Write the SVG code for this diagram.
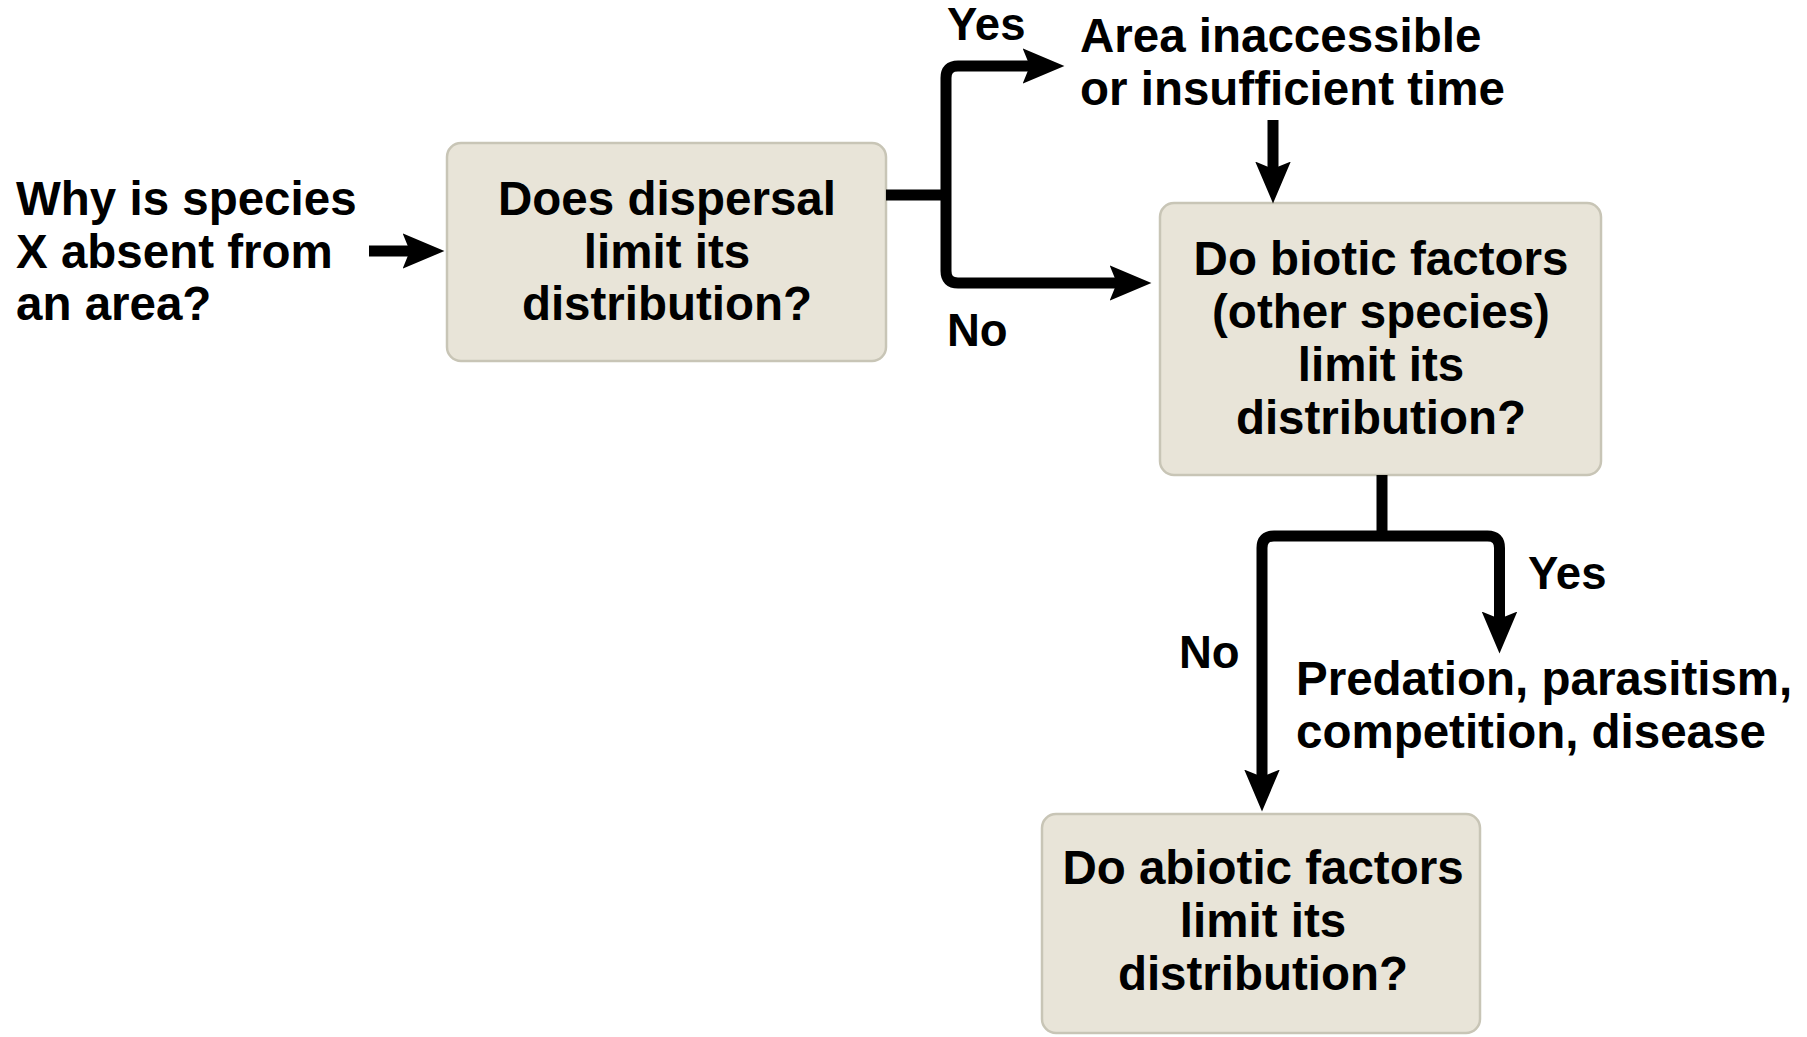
<svg xmlns="http://www.w3.org/2000/svg" width="1807" height="1037" viewBox="0 0 1807 1037">
<style>
  text { font-family: "Liberation Sans", Arial, sans-serif; font-weight: bold; fill: #000; }
  .t { font-size: 47.5px; }
  .lbl { font-size: 45.5px; }
  .c { text-anchor: middle; }
  .box { fill: #e8e4d8; stroke: #c8c5b6; stroke-width: 2.5; }
  .con { fill: none; stroke: #000; stroke-width: 11; stroke-linejoin: round; }
</style>
<defs>
  <marker id="ah" markerUnits="userSpaceOnUse" markerWidth="44" markerHeight="40" viewBox="0 -18 42 36" refX="10" refY="0" orient="auto">
    <path d="M0,-17 L40,0 L0,17 L7,0 Z" fill="#000"/>
  </marker>
</defs>
<rect width="1807" height="1037" fill="#fff"/>

<g id="start">
  <text class="t" x="16" y="215">Why is species</text>
  <text class="t" x="16" y="268">X absent from</text>
  <text class="t" x="16" y="320">an area?</text>
</g>

<g id="dispersal">
  <rect class="box" x="447" y="143" width="439" height="218" rx="14"/>
  <text class="t c" x="667" y="215">Does dispersal</text>
  <text class="t c" x="667" y="268">limit its</text>
  <text class="t c" x="667" y="320">distribution?</text>
</g>

<g id="inaccessible">
  <text class="t" x="1080" y="52">Area inaccessible</text>
  <text class="t" x="1080" y="105">or insufficient time</text>
</g>

<g id="biotic">
  <rect class="box" x="1160" y="203" width="441" height="272" rx="14"/>
  <text class="t c" x="1381" y="275">Do biotic factors</text>
  <text class="t c" x="1381" y="328">(other species)</text>
  <text class="t c" x="1381" y="381">limit its</text>
  <text class="t c" x="1381" y="434">distribution?</text>
</g>

<g id="interactions">
  <text class="t" x="1296" y="695">Predation, parasitism,</text>
  <text class="t" x="1296" y="748">competition, disease</text>
</g>

<g id="abiotic">
  <rect class="box" x="1042" y="814" width="438" height="219" rx="14"/>
  <text class="t c" x="1263" y="884">Do abiotic factors</text>
  <text class="t c" x="1263" y="937">limit its</text>
  <text class="t c" x="1263" y="990">distribution?</text>
</g>

<g id="connectors">
  <path class="con" d="M369,251 H413" marker-end="url(#ah)"/>
  <path class="con" d="M886,195 H946"/>
  <path class="con" d="M946,195 V78 Q946,66 958,66 H1033" marker-end="url(#ah)"/>
  <path class="con" d="M946,195 V271 Q946,283 958,283 H1120" marker-end="url(#ah)"/>
  <path class="con" d="M1273,120 V172" marker-end="url(#ah)"/>
  <path class="con" d="M1382,475 V536"/>
  <path class="con" d="M1382,536 H1274 Q1262,536 1262,548 V780" marker-end="url(#ah)"/>
  <path class="con" d="M1382,536 H1487.5 Q1499.5,536 1499.5,548 V622" marker-end="url(#ah)"/>
  <text class="lbl" x="947" y="40">Yes</text>
  <text class="lbl" x="947" y="346">No</text>
  <text class="lbl" x="1528" y="589">Yes</text>
  <text class="lbl" x="1179" y="668">No</text>
</g>
</svg>
